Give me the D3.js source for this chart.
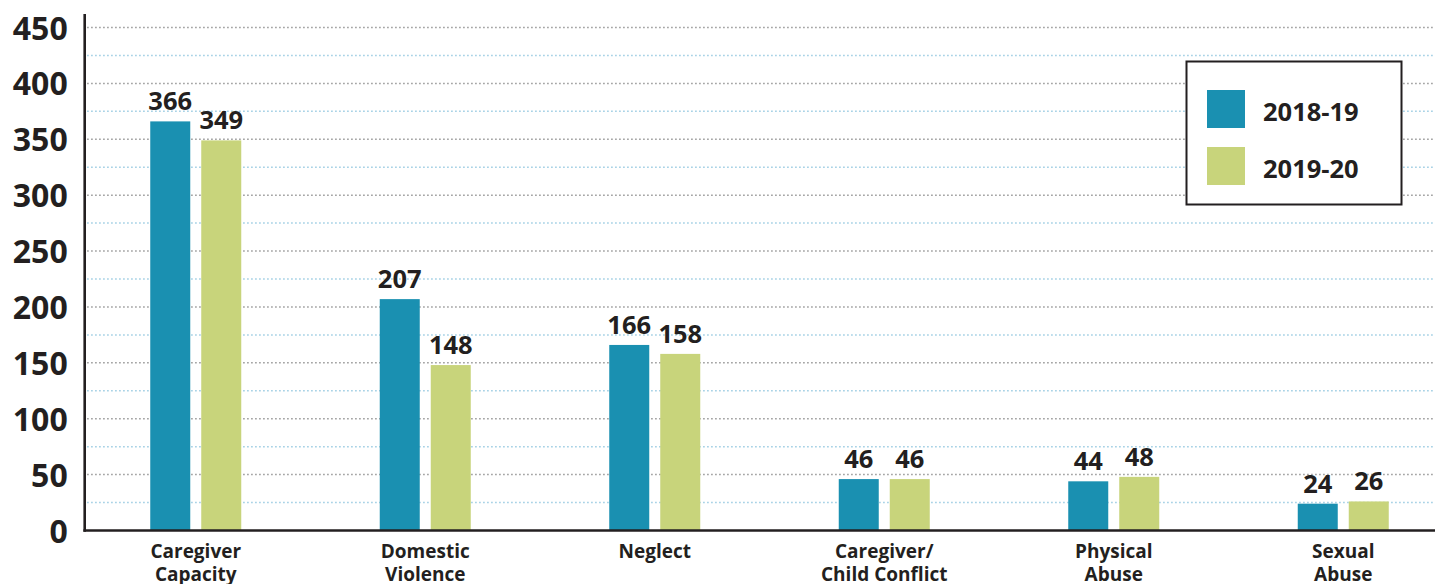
<!DOCTYPE html>
<html>
<head>
<meta charset="utf-8">
<script src="https://cdn.jsdelivr.net/npm/d3@7"></script>
<style>
html,body{margin:0;padding:0;background:#fff;}
svg{display:block;font-family:"Open Sans",sans-serif;}
</style>
</head>
<body>
<svg id="chart" width="1435" height="584"></svg>
<script>
const categories = [["Caregiver","Capacity"],["Domestic","Violence"],["Neglect"],["Caregiver/","Child Conflict"],["Physical","Abuse"],["Sexual","Abuse"]];
const seriesNames = ["2018-19","2019-20"];
const values2018 = [366,207,166,46,44,24];
const values2019 = [349,148,158,46,48,26];
const yTicks = [0,50,100,150,200,250,300,350,400,450];
const minorTicks = [25,75,125,175,225,275,325,375,425];
const colors = ["#1a90b1","#c8d47b"];

const svg = d3.select("#chart");
const catKeys = categories.map(c => c.join(" "));
const x0 = d3.scaleBand().domain(catKeys).range([81, 1458]).paddingInner(0).paddingOuter(0);
const x1 = d3.scaleBand().domain(seriesNames).range([x0.bandwidth()/2 - 45.5, x0.bandwidth()/2 + 45.5]).paddingInner(0.2157).paddingOuter(0);
const y = d3.scaleLinear().domain([0,450]).range([530.5, 27.5]);

// gridlines
const grid = svg.append("g");
grid.selectAll("line.minor").data(minorTicks).join("line")
  .attr("x1",87).attr("x2",1435)
  .attr("y1",d=>y(d)).attr("y2",d=>y(d))
  .attr("stroke","#a9d3e6").attr("stroke-width",1.5).attr("stroke-dasharray","1.8,2.2");
grid.selectAll("line.major").data(yTicks.filter(d=>d>0)).join("line")
  .attr("x1",87).attr("x2",1435)
  .attr("y1",d=>y(d)).attr("y2",d=>y(d))
  .attr("stroke","#a6a6a6").attr("stroke-width",1.5).attr("stroke-dasharray","1.8,2.2");

// bars
const data = catKeys.map((k,i)=>({key:k, vals:[{s:seriesNames[0],v:values2018[i]},{s:seriesNames[1],v:values2019[i]}]}));
const groups = svg.selectAll("g.cat").data(data).join("g").attr("class","cat")
  .attr("transform",d=>`translate(${x0(d.key)},0)`);
groups.selectAll("rect").data(d=>d.vals).join("rect")
  .attr("x",d=>x1(d.s)).attr("width",x1.bandwidth())
  .attr("y",d=>y(d.v)).attr("height",d=>y(0)-y(d.v))
  .attr("fill",(d,i)=>colors[i]);
groups.selectAll("text.val").data(d=>d.vals).join("text").attr("class","val")
  .attr("x",d=>x1(d.s)+x1.bandwidth()/2).attr("y",d=>y(d.v)-11)
  .attr("text-anchor","middle").attr("font-size",25.5).attr("font-weight",700)
  .attr("fill","#231f20").text(d=>d.v);

// y axis
const yAxis = d3.axisLeft(y).tickValues(yTicks).tickSize(0).tickPadding(17);
const ya = svg.append("g").attr("transform","translate(84.7,0)").call(yAxis);
ya.select(".domain").remove();
ya.selectAll("text").attr("font-size",32).attr("font-weight",700).attr("fill","#231f20")
  .attr("font-family","'Open Sans',sans-serif").attr("dy","0.36em");
svg.append("line").attr("x1",84.7).attr("x2",84.7).attr("y1",14).attr("y2",531.7)
  .attr("stroke","#231f20").attr("stroke-width",2.6);

// x axis
const xAxis = d3.axisBottom(x0).tickSize(0).tickFormat("");
const xa = svg.append("g").attr("transform",`translate(0,${y(0)})`).call(xAxis);
xa.select(".domain").remove();
svg.append("line").attr("x1",83.4).attr("x2",1435).attr("y1",530.5).attr("y2",530.5)
  .attr("stroke","#231f20").attr("stroke-width",2.4);
const labels = svg.append("g");
data.forEach((d,i)=>{
  categories[i].forEach((line,j)=>{
    labels.append("text").attr("x",x0(d.key)+x0.bandwidth()/2).attr("y",558+j*22.5)
      .attr("text-anchor","middle").attr("font-size",19).attr("font-weight",700).attr("fill","#231f20")
      .text(line);
  });
});

// legend
const lg = svg.append("g");
lg.append("rect").attr("x",1186.5).attr("y",61.5).attr("width",215).attr("height",143)
  .attr("fill","#fff").attr("stroke","#231f20").attr("stroke-width",2);
seriesNames.forEach((s,i)=>{
  lg.append("rect").attr("x",1207).attr("y",90+i*57).attr("width",38).attr("height",38).attr("fill",colors[i]);
  lg.append("text").attr("x",1263).attr("y",121+i*57).attr("font-size",25.5).attr("font-weight",700)
    .attr("fill","#231f20").text(s);
});
</script>
</body>
</html>
